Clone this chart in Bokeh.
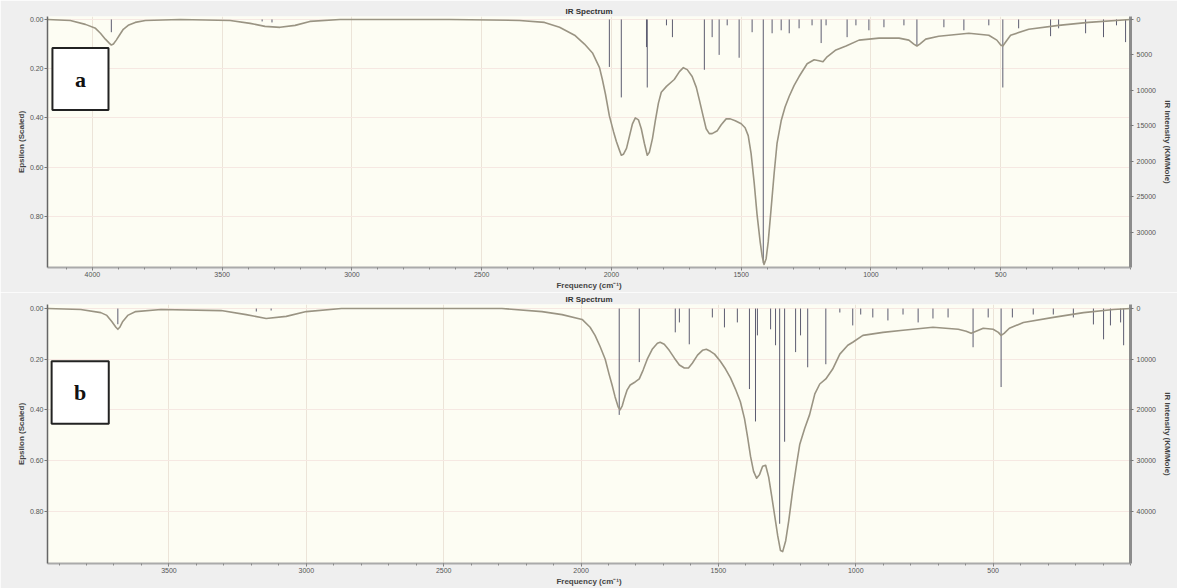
from bokeh.plotting import figure
from bokeh.models import Range1d, LinearAxis, FixedTicker, Label, BoxAnnotation, NumeralTickFormatter
from bokeh.layouts import column
from bokeh.embed import file_html
from bokeh.resources import INLINE

# ---------------- Panel a ----------------
a_curve_freq = [4173, 4085, 4027, 3988, 3969, 3950, 3935, 3927, 3919, 3908, 3896, 3881, 3862, 3835,
                3796, 3662, 3469, 3392, 3335, 3277, 3219, 3162, 3046, 2623, 2354, 2258, 2200, 2142,
                2104, 2073, 2046, 2035, 2023, 2008, 1992, 1981, 1969, 1962, 1954, 1942, 1931, 1919,
                1908, 1896, 1885, 1873, 1862, 1854, 1842, 1831, 1819, 1808, 1788, 1758, 1738, 1723,
                1708, 1689, 1673, 1662, 1646, 1635, 1623, 1612, 1592, 1577, 1558, 1542, 1523, 1500,
                1485, 1473, 1462, 1450, 1439, 1427, 1419, 1412, 1404, 1396, 1385, 1373, 1362, 1346,
                1331, 1315, 1296, 1277, 1246, 1219, 1200, 1185, 1169, 1135, 1096, 1046, 969, 892,
                854, 835, 823, 812, 789, 739, 623, 546, 515, 500, 492, 481, 462, 392, 277, 162, 0]
a_curve_eps = [0.000, 0.004, 0.020, 0.036, 0.056, 0.080, 0.096, 0.104, 0.100, 0.084, 0.064, 0.040,
               0.024, 0.012, 0.004, 0.000, 0.004, 0.016, 0.028, 0.032, 0.024, 0.008, 0.000, 0.000,
               0.004, 0.012, 0.032, 0.064, 0.100, 0.136, 0.196, 0.244, 0.304, 0.392, 0.456, 0.496,
               0.532, 0.552, 0.548, 0.524, 0.476, 0.424, 0.400, 0.408, 0.444, 0.504, 0.552, 0.540,
               0.484, 0.412, 0.340, 0.296, 0.272, 0.244, 0.212, 0.196, 0.204, 0.232, 0.276, 0.324,
               0.396, 0.444, 0.464, 0.464, 0.452, 0.428, 0.404, 0.404, 0.412, 0.424, 0.440, 0.472,
               0.544, 0.664, 0.792, 0.904, 0.964, 0.996, 0.972, 0.904, 0.772, 0.624, 0.504, 0.412,
               0.356, 0.312, 0.268, 0.232, 0.180, 0.164, 0.168, 0.172, 0.152, 0.124, 0.108, 0.084,
               0.076, 0.076, 0.084, 0.100, 0.108, 0.100, 0.080, 0.068, 0.056, 0.064, 0.084, 0.104,
               0.108, 0.092, 0.064, 0.040, 0.024, 0.012, 0.000]
a_stick_freq = [3927, 3346, 3308, 2008, 1962, 1865, 1862, 1788, 1765, 1642, 1612, 1585, 1554, 1508,
                1458, 1415, 1381, 1346, 1315, 1277, 1227, 1192, 1173, 1092, 1058, 1008, 950, 873,
                823, 719, 642, 546, 492, 431, 308, 277, 173, 104, 54, 19]
a_stick_int = [1800, 280, 420, 6700, 11000, 3900, 9600, 830, 2500, 7100, 2500, 5000, 830, 5400,
               1800, 34400, 1950, 1530, 1950, 1250, 830, 3330, 830, 2500, 830, 1530, 1100, 830,
               3600, 1100, 1530, 830, 9600, 1250, 2360, 1250, 1950, 2500, 830, 3200]
a_freq_ticks = [4000, 3500, 3000, 2500, 2000, 1500, 1000, 500]
a_eps_ticks = [0.0, 0.2, 0.4, 0.6, 0.8]
a_ir_ticks = [0, 5000, 10000, 15000, 20000, 25000, 30000]

# ---------------- Panel b ----------------
b_curve_freq = [3942, 3821, 3748, 3726, 3708, 3693, 3686, 3679, 3668, 3650, 3621, 3529, 3310, 3219,
                3146, 3073, 3000, 2872, 2288, 2142, 2069, 1996, 1967, 1949, 1931, 1912, 1898, 1887,
                1876, 1865, 1858, 1850, 1843, 1832, 1821, 1803, 1788, 1774, 1759, 1741, 1722, 1712,
                1697, 1679, 1660, 1642, 1624, 1609, 1595, 1576, 1558, 1544, 1529, 1514, 1493, 1474,
                1456, 1438, 1420, 1405, 1394, 1383, 1372, 1361, 1350, 1339, 1328, 1317, 1306, 1295,
                1284, 1274, 1266, 1255, 1244, 1230, 1215, 1204, 1186, 1168, 1149, 1131, 1109, 1084,
                1058, 1029, 1011, 974, 901, 828, 719, 627, 598, 580, 562, 536, 500, 481, 471, 460,
                441, 390, 281, 171, 62, 0]
b_curve_eps = [0.000, 0.004, 0.016, 0.027, 0.051, 0.074, 0.082, 0.074, 0.051, 0.027, 0.012, 0.004,
               0.008, 0.024, 0.039, 0.031, 0.012, 0.000, 0.000, 0.012, 0.024, 0.043, 0.074, 0.106,
               0.149, 0.200, 0.259, 0.302, 0.349, 0.388, 0.400, 0.384, 0.357, 0.321, 0.302, 0.290,
               0.278, 0.243, 0.200, 0.161, 0.137, 0.133, 0.141, 0.165, 0.196, 0.223, 0.235, 0.235,
               0.216, 0.184, 0.165, 0.161, 0.169, 0.180, 0.208, 0.239, 0.274, 0.318, 0.368, 0.435,
               0.506, 0.584, 0.643, 0.670, 0.655, 0.623, 0.619, 0.666, 0.741, 0.819, 0.898, 0.956,
               0.960, 0.917, 0.839, 0.721, 0.612, 0.537, 0.474, 0.419, 0.337, 0.298, 0.278, 0.239,
               0.180, 0.145, 0.133, 0.106, 0.094, 0.086, 0.074, 0.082, 0.090, 0.098, 0.090, 0.078,
               0.082, 0.094, 0.106, 0.098, 0.078, 0.055, 0.035, 0.016, 0.004, 0.000]
b_stick_freq = [3686, 3182, 3128, 1861, 1788, 1657, 1642, 1606, 1522, 1478, 1431, 1387, 1365, 1358,
                1310, 1292, 1277, 1259, 1219, 1201, 1175, 1109, 1058, 1011, 982, 938, 883, 828, 773,
                719, 664, 573, 518, 471, 430, 354, 281, 208, 135, 98, 73, 36, 25]
b_stick_int = [3100, 590, 390, 21000, 10580, 4700, 2740, 7060, 1760, 3720, 2740, 15900, 22300, 5300,
               4100, 7250, 42500, 26300, 8600, 5300, 11600, 11000, 780, 3330, 1180, 1760, 2350, 1180,
               2740, 1960, 1760, 7640, 1760, 15500, 1760, 1180, 1180, 1760, 3140, 6080, 3330, 2740, 7250]
b_freq_ticks = [3500, 3000, 2500, 2000, 1500, 1000, 500]
b_eps_ticks = [0.0, 0.2, 0.4, 0.6, 0.8]
b_ir_ticks = [0, 10000, 20000, 30000, 40000]

FONT = "Liberation Sans"
OUTER = "#efefef"
FRAME = "#fdfdf3"
CURVE = "#9a9483"
STICK = "#5c5c70"


def make_panel(curve_f, curve_e, stick_f, stick_i, x_max, e_top, e_bottom, ir_per_eps,
               freq_ticks, eps_ticks, ir_ticks, letter, box, height, border_top, border_bottom):
    p = figure(width=1177, height=height, output_backend="svg", toolbar_location=None,
               x_range=Range1d(start=x_max, end=0),
               y_range=Range1d(start=e_bottom, end=e_top),
               min_border_left=47, min_border_right=47, min_border_top=border_top,
               min_border_bottom=border_bottom,
               background_fill_color=FRAME, border_fill_color=OUTER, outline_line_color=None)
    p.extra_y_ranges = {"ir": Range1d(start=e_bottom * ir_per_eps, end=e_top * ir_per_eps)}

    p.title.text = "IR Spectrum"
    p.title.align = "center"
    p.title.text_font = FONT
    p.title.text_font_size = "8px"
    p.title.text_color = "#333333"
    p.title.standoff = 1
    p.title.offset = 0

    # sticks (right axis scale) and spectrum (left axis scale)
    p.segment(x0=stick_f, y0=[0] * len(stick_f), x1=stick_f, y1=stick_i, y_range_name="ir",
              line_color=STICK, line_width=1)
    p.line(curve_f, curve_e, line_color=CURVE, line_width=1.6, line_join="round")

    # axes
    xa = p.xaxis[0]
    minor = list(range(0, int(x_max) + 100, 100))
    xa.ticker = FixedTicker(ticks=freq_ticks, minor_ticks=minor)
    xa.axis_label = "Frequency (cm⁻¹)"
    ya = p.yaxis[0]
    ya.ticker = FixedTicker(ticks=eps_ticks)
    ya.formatter = NumeralTickFormatter(format="0.00")
    ya.axis_label = "Epsilon (Scaled)"
    ra = LinearAxis(y_range_name="ir", axis_label="IR Intensity (KM/Mole)",
                    ticker=FixedTicker(ticks=ir_ticks), formatter=NumeralTickFormatter(format="0"))
    p.add_layout(ra, "right")

    for ax in (xa, ya, ra):
        ax.major_label_text_font = FONT
        ax.major_label_text_font_size = "7px"
        ax.major_label_text_color = "#555555"
        ax.axis_label_text_font = FONT
        ax.axis_label_text_font_size = "8px"
        ax.axis_label_text_font_style = "bold"
        ax.axis_label_text_color = "#444444"
        ax.major_tick_line_color = "#777777"
        ax.major_tick_out = 3
        ax.major_tick_in = 0
        ax.minor_tick_line_color = "#888888"
        ax.minor_tick_out = 2
        ax.minor_tick_in = 0
        ax.major_label_standoff = 1
        ax.axis_label_standoff = 1
    xa.axis_line_color = "#aaaaaa"
    xa.axis_line_width = 2
    ya.axis_line_color = "#666666"
    ya.axis_line_width = 1.5
    ya.minor_tick_line_color = None
    ra.axis_line_color = "#8c8c8c"
    ra.axis_line_width = 3
    ra.minor_tick_line_color = None
    ra.major_label_standoff = 3
    ra.axis_label_standoff = 4

    p.xgrid.ticker = FixedTicker(ticks=freq_ticks)
    p.xgrid.grid_line_color = "#ece4d8"
    p.ygrid.ticker = FixedTicker(ticks=eps_ticks)
    p.ygrid.grid_line_color = "#f6e8e2"

    # panel letter box
    bl, br, bt, bb = box
    p.add_layout(BoxAnnotation(left=bl, right=br, top=bt, bottom=bb, fill_color="white", fill_alpha=1,
                               line_color="#222222", line_width=2, line_alpha=1))
    p.add_layout(Label(x=(bl + br) / 2, y=(bt + bb) / 2, text=letter, text_align="center",
                       text_baseline="middle", text_font="Liberation Serif", text_font_style="bold",
                       text_font_size="22px", text_color="#111111"))
    return p


pa = make_panel(a_curve_freq, a_curve_eps, a_stick_freq, a_stick_int, 4173, -0.012, 1.008, 34722,
                a_freq_ticks, a_eps_ticks, a_ir_ticks, "a", (4154, 3938, 0.116, 0.368), 292, 16, 21)
pb = make_panel(b_curve_freq, b_curve_eps, b_stick_freq, b_stick_int, 3942, -0.016, 1.007, 50000,
                b_freq_ticks, b_eps_ticks, b_ir_ticks, "b", (3927, 3719, 0.208, 0.455), 296, 10, 25)

layout = column(pa, pb, spacing=0)
open("out.html", "w").write(file_html(layout, INLINE))
